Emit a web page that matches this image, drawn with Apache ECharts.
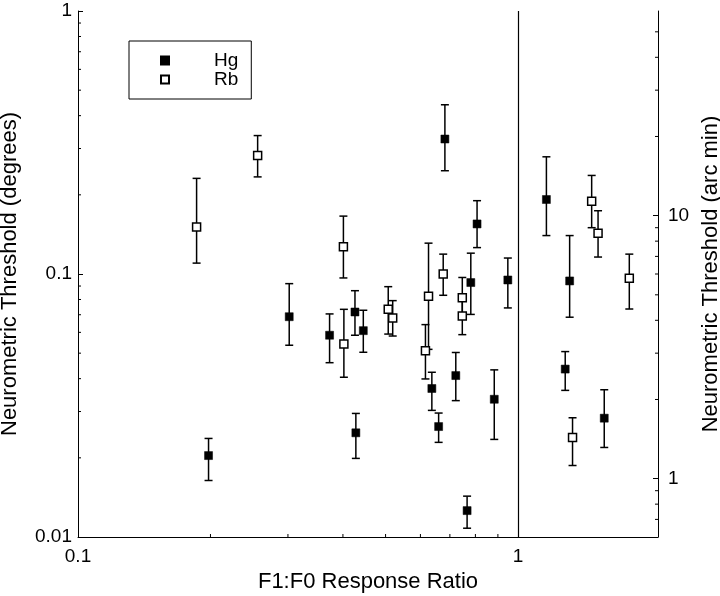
<!DOCTYPE html>
<html>
<head>
<meta charset="utf-8">
<script src="https://cdn.jsdelivr.net/npm/echarts@6/dist/echarts.min.js"></script>
<style>html,body{margin:0;padding:0;background:#fff}#c{width:720px;height:596px}</style>
</head>
<body>
<div id="c"></div>
<script>
// ---- data ----
const hgX  = [0.198, 0.302, 0.373, 0.426, 0.445, 0.428, 0.682, 0.637, 0.660, 0.722, 0.807, 0.781, 0.766, 0.883, 0.948, 1.16, 1.31, 1.28, 1.57];
const hgY  = [0.0204, 0.0688, 0.0585, 0.0717, 0.0609, 0.0249, 0.326, 0.0367, 0.0263, 0.0411, 0.155, 0.0928, 0.0126, 0.0334, 0.0949, 0.192, 0.0941, 0.0435, 0.0283];
const hgHi = [0.0237, 0.0919, 0.0705, 0.0864, 0.0728, 0.0295, 0.440, 0.0423, 0.0296, 0.0503, 0.190, 0.120, 0.0143, 0.0432, 0.115, 0.279, 0.140, 0.0507, 0.0363];
const hgLo = [0.0164, 0.0536, 0.0460, 0.0585, 0.0504, 0.0199, 0.247, 0.0303, 0.0229, 0.0330, 0.126, 0.0702, 0.0108, 0.0235, 0.0743, 0.140, 0.0685, 0.0361, 0.0219];

const rbX  = [0.186, 0.256, 0.401, 0.402, 0.507, 0.519, 0.616, 0.626, 0.676, 0.747, 0.747, 1.47, 1.52, 1.79, 1.33];
const rbY  = [0.151, 0.282, 0.127, 0.0542, 0.0734, 0.0680, 0.0511, 0.0823, 0.100, 0.0812, 0.0692, 0.189, 0.143, 0.0963, 0.0239];
const rbHi = [0.231, 0.336, 0.166, 0.0734, 0.0895, 0.0792, 0.0642, 0.131, 0.119, 0.0970, 0.080, 0.237, 0.174, 0.119, 0.0284];
const rbLo = [0.110, 0.234, 0.0966, 0.0405, 0.0591, 0.0581, 0.0399, 0.0517, 0.0830, 0.0711, 0.0588, 0.150, 0.116, 0.0736, 0.0187];

const refLineX = [1];

// tick values / labels
const xTickLabels = ['0.1', '1'];
const xMinorTicks = [0.2, 0.3, 0.4, 0.5, 0.6, 0.7, 0.8, 0.9];
const yTickLabels = ['0.01', '0.1', '1'];
const yMinorTicks = [0.02, 0.03, 0.04, 0.05, 0.06, 0.07, 0.08, 0.09, 0.2, 0.3, 0.4, 0.5, 0.6, 0.7, 0.8, 0.9];
const y2TickLabels = ['1', '10'];
const y2MinorTicks = [0.7, 0.8, 0.9, 2, 3, 4, 5, 6, 7, 8, 9, 20, 30, 40, 50];

const X_MIN = 0.1, X_MAX = 2.08, Y_MIN = 0.01, Y_MAX = 1;
const Y2_MIN = Y_MIN * 60, Y2_MAX = Y_MAX * 60;

const FONT = "'Liberation Sans', Arial, Helvetica, sans-serif";

function zip(xs, ys, los, his) { return xs.map((x, i) => [x, ys[i], los[i], his[i]]); }

function errRender(params, api) {
  const x = api.value(0), lo = api.value(2), hi = api.value(3);
  const a = api.coord([x, hi]), b = api.coord([x, lo]);
  const cap = 4;
  const st = { stroke: '#000', lineWidth: 1.5 };
  return { type: 'group', children: [
    { type: 'line', shape: { x1: a[0], y1: a[1], x2: b[0], y2: b[1] }, style: st },
    { type: 'line', shape: { x1: a[0] - cap, y1: a[1], x2: a[0] + cap, y2: a[1] }, style: st },
    { type: 'line', shape: { x1: b[0] - cap, y1: b[1], x2: b[0] + cap, y2: b[1] }, style: st }
  ]};
}

function tickRender(dir, len) {
  return function (params, api) {
    const p = api.coord([api.value(0), api.value(1)]);
    const q = [p[0] + dir[0] * len, p[1] + dir[1] * len];
    return { type: 'line', shape: { x1: p[0], y1: p[1], x2: q[0], y2: q[1] }, style: { stroke: '#000', lineWidth: 1 } };
  };
}

function fmt(labels) {
  return function (v) {
    for (const l of labels) { if (Math.abs(Math.log10(v) - Math.log10(parseFloat(l))) < 1e-6) return l; }
    return '';
  };
}

const axisBase = {
  axisLine: { show: true, lineStyle: { color: '#000', width: 1 } },
  axisTick: { show: true, inside: true, length: 5, lineStyle: { color: '#000', width: 1 } },
  splitLine: { show: false },
  nameLocation: 'middle',
  nameTextStyle: { fontSize: 22, fontFamily: FONT, color: '#000' }
};

const chart = echarts.init(document.getElementById('c'), null, { renderer: 'canvas' });
chart.setOption({
  backgroundColor: '#fff',
  animation: false,
  grid: { left: 78, right: 62, top: 11, bottom: 59, containLabel: false, outerBoundsMode: 'none' },
  legend: {
    left: 129, top: 41, orient: 'vertical',
    padding: [10, 13, 10, 31], itemWidth: 8, itemHeight: 8, itemGap: 0,
    borderColor: '#000', borderWidth: 1, selectedMode: false,
    textStyle: { fontSize: 19, fontFamily: FONT, color: '#000', lineHeight: 19, padding: [0, 0, 0, 40] },
    data: [{ name: 'Hg', icon: 'rect' }, { name: 'Rb', icon: 'rect' }]
  },
  xAxis: Object.assign({}, axisBase, {
    type: 'log', logBase: 10, min: X_MIN, max: X_MAX,
    name: 'F1:F0 Response Ratio', nameGap: 31,
    axisLabel: { fontSize: 19, fontFamily: FONT, color: '#000', margin: 10, formatter: fmt(xTickLabels), showMaxLabel: false }
  }),
  yAxis: [
    Object.assign({}, axisBase, {
      type: 'log', logBase: 10, min: Y_MIN, max: Y_MAX, position: 'left',
      name: 'Neurometric Threshold (degrees)', nameGap: 57,
      axisLabel: { fontSize: 19, fontFamily: FONT, color: '#000', margin: 6, formatter: fmt(yTickLabels) }
    }),
    Object.assign({}, axisBase, {
      type: 'log', logBase: 10, min: Y2_MIN, max: Y2_MAX, position: 'right',
      name: 'Neurometric Threshold (arc min)', nameGap: 38,
      axisLabel: { fontSize: 19, fontFamily: FONT, color: '#000', margin: 10, formatter: fmt(y2TickLabels), showMinLabel: false, showMaxLabel: false }
    })
  ],
  series: [
    { name: 'xminor', type: 'custom', xAxisIndex: 0, yAxisIndex: 0, silent: true, renderItem: tickRender([0, -1], 3),
      data: xMinorTicks.map(v => [v, Y_MIN]), encode: { x: 0, y: 1 } },
    { name: 'yminor', type: 'custom', xAxisIndex: 0, yAxisIndex: 0, silent: true, renderItem: tickRender([1, 0], 3),
      data: yMinorTicks.map(v => [X_MIN, v]), encode: { x: 0, y: 1 } },
    { name: 'y2minor', type: 'custom', xAxisIndex: 0, yAxisIndex: 1, silent: true, renderItem: tickRender([-1, 0], 3),
      data: y2MinorTicks.map(v => [X_MAX, v]), encode: { x: 0, y: 1 } },
    { name: 'HgErr', type: 'custom', renderItem: errRender, data: zip(hgX, hgY, hgLo, hgHi), encode: { x: 0, y: 1 }, z: 2 },
    { name: 'RbErr', type: 'custom', renderItem: errRender, data: zip(rbX, rbY, rbLo, rbHi), encode: { x: 0, y: 1 }, z: 2 },
    { name: 'Hg', type: 'scatter', symbol: 'rect', symbolSize: 8, z: 3,
      itemStyle: { color: '#000', borderColor: '#000', borderWidth: 0.5, opacity: 1 },
      data: hgX.map((x, i) => [x, hgY[i]]),
      markLine: { silent: true, symbol: 'none', label: { show: false },
        lineStyle: { color: '#000', type: 'solid', width: 1.2 },
        data: refLineX.map(v => ({ xAxis: v })) } },
    { name: 'Rb', type: 'scatter', symbol: 'rect', symbolSize: 8, z: 4,
      itemStyle: { color: '#fff', borderColor: '#000', borderWidth: 1.5, opacity: 1 },
      data: rbX.map((x, i) => [x, rbY[i]]) }
  ]
});
</script>
</body>
</html>
